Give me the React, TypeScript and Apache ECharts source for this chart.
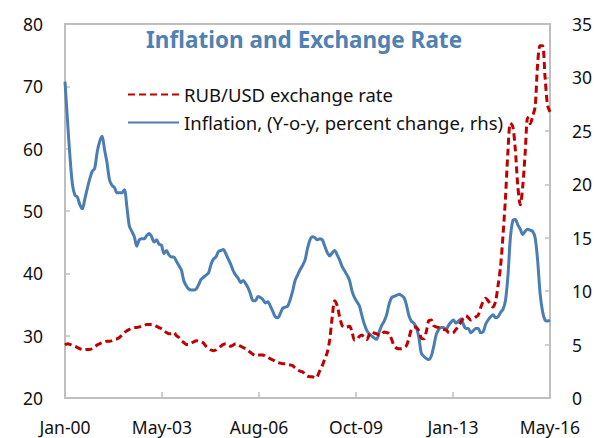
import React, { useEffect, useRef } from "react";
import * as echarts from "echarts";

// Month index 0 = Jan-00 ... 196 = May-16
const tickLabels = ["Jan-00", "May-03", "Aug-06", "Oct-09", "Jan-13", "May-16"];

// RUB/USD exchange rate (lhs), monthly Jan-00 .. May-16
const exchangeRate = [
  28.5, 28.7, 28.6, 28.4, 28.3, 28.1, 27.9, 27.8, 27.7, 27.8, 27.8, 27.9,
  28.2, 28.5, 28.7, 28.9, 29.0, 29.1, 29.1, 29.2, 29.4, 29.5, 29.7, 30.1,
  30.5, 30.8, 31.0, 31.2, 31.3, 31.3, 31.4, 31.5, 31.6, 31.8, 31.8, 31.8,
  31.7, 31.5, 31.3, 31.1, 30.8, 30.5, 30.3, 30.3, 30.5, 30.0, 29.7, 29.2,
  28.9, 28.6, 28.6, 28.8, 29.0, 29.2, 29.1, 29.0, 28.8, 28.3, 28.0, 27.7,
  27.6, 27.7, 28.0, 28.3, 28.6, 28.7, 28.5, 28.3, 28.5, 28.7, 28.5, 28.3,
  28.1, 27.9, 27.6, 27.3, 27.0, 26.8, 26.9, 26.9, 26.9, 26.7, 26.5, 26.3,
  26.1, 25.9, 25.7, 25.6, 25.5, 25.5, 25.4, 25.3, 25.2, 24.8, 24.5, 24.3,
  24.2, 23.8, 23.5, 23.4, 23.4, 23.2, 23.5, 24.4, 25.2, 26.3, 27.3, 29.4,
  33.0, 35.6, 34.8, 33.0, 31.6, 31.3, 31.4, 31.5, 30.6, 29.3, 29.4, 29.9,
  30.1, 29.6, 29.4, 30.2, 30.6, 30.4, 30.3, 30.1, 30.2, 30.6, 30.5, 30.3,
  29.4, 28.4, 28.0, 27.9, 27.9, 28.1, 28.4, 29.6, 31.0, 31.4, 31.3, 30.8,
  29.6, 29.5, 30.6, 32.4, 32.5, 31.6, 31.4, 31.3, 31.2, 31.0, 30.9, 30.5,
  30.4, 30.5, 31.0, 31.5, 32.2, 32.8, 33.2, 32.9, 32.5, 32.7, 33.0, 33.3,
  34.5, 35.5, 36.0, 35.6, 35.0, 34.6, 35.5, 38.0, 41.0, 46.0, 52.0, 59.5,
  64.1, 63.5, 59.8, 54.0, 51.0, 54.0, 59.5, 65.0, 64.0, 65.2, 66.7, 73.5,
  76.5, 76.5, 71.5, 67.0, 65.9,
];

// Inflation, y-o-y percent change (rhs), monthly Jan-00 .. May-16
const inflation = [
  29.6, 26.0, 22.6, 20.0, 19.0, 18.8, 18.1, 17.7, 18.6, 19.6, 20.5, 21.2,
  21.5, 23.0, 24.0, 24.5, 23.2, 22.0, 20.4, 19.9, 19.7, 19.2, 19.2, 19.2,
  19.5, 17.9, 16.1, 15.6, 15.1, 14.2, 14.8, 14.9, 14.9, 15.2, 15.4, 15.1,
  14.6, 14.8, 14.4, 14.3, 13.5, 13.8, 13.4, 13.2, 13.2, 12.8, 12.4, 12.0,
  11.0, 10.5, 10.2, 10.1, 10.1, 10.2, 10.6, 11.1, 11.3, 11.5, 11.7, 12.5,
  13.0, 13.2, 13.7, 13.8, 13.9, 13.5, 13.0, 12.5, 11.9, 11.5, 11.2, 10.8,
  11.0, 10.7, 10.3, 9.7, 9.1, 9.1, 9.5, 9.4, 9.2, 8.9, 9.0, 8.6,
  8.1, 7.6, 7.5, 7.9, 8.4, 8.5, 8.6, 9.2, 10.0, 11.0, 11.5, 12.0,
  12.4, 12.9, 14.0, 14.8, 15.1, 15.0, 14.8, 14.9, 14.8, 14.2, 13.6, 13.3,
  13.6, 13.8, 13.4, 12.9, 12.3, 11.9, 11.5, 11.0, 10.0, 9.4, 9.0, 8.6,
  7.7, 6.9, 6.3, 6.0, 5.8, 5.6, 5.5, 6.2, 6.8, 7.2, 7.8, 8.8,
  9.4, 9.5, 9.6, 9.7, 9.6, 9.4, 8.7, 7.7, 7.2, 7.0, 6.6, 5.7,
  4.2, 3.9, 3.7, 3.6, 3.9, 4.8, 5.9, 6.4, 6.6, 6.6, 6.4, 6.8,
  7.1, 7.3, 7.0, 7.2, 7.4, 6.9, 6.5, 6.5, 6.1, 6.3, 6.5, 6.5,
  6.1, 6.2, 6.9, 7.3, 7.6, 7.8, 7.5, 7.6, 8.0, 8.3, 9.1, 11.4,
  15.0, 16.6, 16.7, 16.2, 15.8, 15.3, 15.6, 15.8, 15.7, 15.6, 15.0, 12.9,
  9.8, 8.1, 7.3, 7.2, 7.3,
];

const TICK_STEP = 39.2;

export default function App() {
  const ref = useRef<HTMLDivElement>(null);
  useEffect(() => {
    document.body.style.margin = "0";
    const chart = echarts.init(ref.current!, null, { renderer: "svg" });
    const font = "Noto Sans";
    const axisGray = "#bfbfbf";
    const labelColor = "#111111";
    chart.setOption({
      animation: false,
      backgroundColor: "#ffffff",
      title: {
        text: "Inflation and Exchange Rate",
        left: 146,
        top: 28,
        padding: 0,
        textStyle: {
          fontFamily: font,
          fontWeight: "bold",
          fontSize: 22.5,
          color: "#4f81b3",
        },
      },
      legend: {
        orient: "vertical",
        left: 127,
        top: 85,
        padding: 0,
        itemWidth: 51,
        itemHeight: 14,
        itemGap: 9,
        itemStyle: { opacity: 0 },
        textStyle: { fontFamily: font, fontSize: 18.5, color: labelColor, padding: [0, 0, 0, 0] },
        data: ["RUB/USD exchange rate", "Inflation, (Y-o-y, percent change, rhs)"],
      },
      grid: {
        left: 65,
        right: 45,
        top: 24,
        bottom: 40,
        show: true,
        borderColor: axisGray,
        borderWidth: 2,
      },
      xAxis: {
        type: "value",
        min: 0,
        max: 196,
        interval: TICK_STEP,
        axisLine: { lineStyle: { color: axisGray, width: 2 } },
        axisTick: { show: true, inside: true, length: 6, lineStyle: { color: axisGray, width: 1.5 } },
        splitLine: { show: false },
        axisLabel: {
          showMaxLabel: true,
          margin: 20,
          fontFamily: font,
          fontSize: 17.5,
          color: labelColor,
          formatter: (v: number) => tickLabels[Math.round(v / TICK_STEP)] ?? "",
        },
      },
      yAxis: [
        {
          type: "value",
          min: 20,
          max: 80,
          interval: 10,
          axisLine: { show: true, lineStyle: { color: axisGray, width: 2 } },
          axisTick: { show: true, inside: true, length: 5, lineStyle: { color: axisGray, width: 1.5 } },
          splitLine: { show: false },
          axisLabel: { margin: 22, fontFamily: font, fontSize: 17.5, color: labelColor },
        },
        {
          type: "value",
          min: 0,
          max: 35,
          interval: 5,
          position: "right",
          axisLine: { show: true, lineStyle: { color: axisGray, width: 2 } },
          axisTick: { show: true, inside: true, length: 5, lineStyle: { color: axisGray, width: 1.5 } },
          splitLine: { show: false },
          axisLabel: { margin: 22, fontFamily: font, fontSize: 17.5, color: labelColor },
        },
      ],
      series: [
        {
          name: "RUB/USD exchange rate",
          type: "line",
          yAxisIndex: 0,
          showSymbol: false,
          symbol: "none",
          smooth: 0.3,
          data: exchangeRate.map((v, i) => [i, v]),
          lineStyle: { color: "#c00000", width: 3, type: [7, 4] },
          itemStyle: { color: "#c00000" },
          z: 3,
        },
        {
          name: "Inflation, (Y-o-y, percent change, rhs)",
          type: "line",
          yAxisIndex: 1,
          showSymbol: false,
          symbol: "none",
          smooth: 0.3,
          data: inflation.map((v, i) => [i, v]),
          lineStyle: { color: "#4a7eb3", width: 3 },
          itemStyle: { color: "#4a7eb3" },
          z: 2,
        },
      ],
    });
    return () => chart.dispose();
  }, []);
  return (
    <div
      ref={ref}
      style={{ position: "absolute", left: 0, top: 0, width: 595, height: 438 }}
    />
  );
}
